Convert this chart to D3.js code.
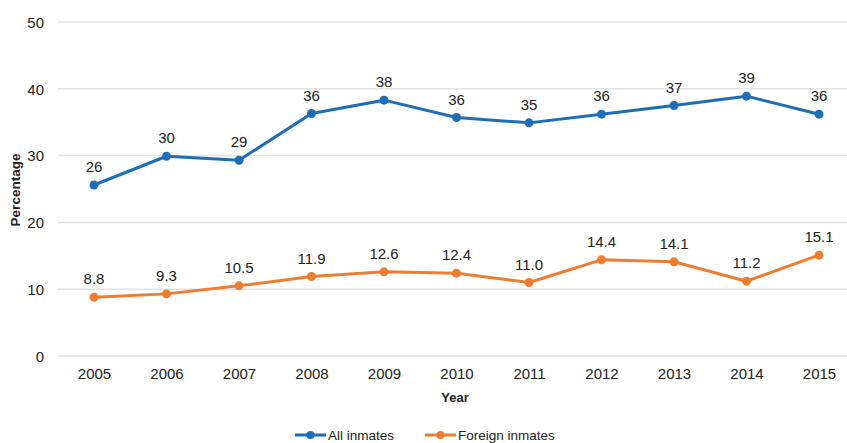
<!DOCTYPE html>
<html><head><meta charset="utf-8">
<script src="https://cdn.jsdelivr.net/npm/d3@7"></script>
<style>body{margin:0;background:#fff}text{font-family:"Liberation Sans",Arial,sans-serif;fill:#222}</style>
</head><body><svg id="c" width="847" height="443"></svg>
<script>
const years = ["2005","2006","2007","2008","2009","2010","2011","2012","2013","2014","2015"];
const allInmates = [25.6, 29.9, 29.3, 36.3, 38.3, 35.7, 34.9, 36.2, 37.5, 38.9, 36.2];
const allLabels = ["26","30","29","36","38","36","35","36","37","39","36"];
const foreignInmates = [8.8, 9.3, 10.5, 11.9, 12.6, 12.4, 11.0, 14.4, 14.1, 11.2, 15.1];
const foreignLabels = ["8.8","9.3","10.5","11.9","12.6","12.4","11.0","14.4","14.1","11.2","15.1"];
const yTicks = [0,10,20,30,40,50];
const seriesNames = ["All inmates","Foreign inmates"];
const colors = ["#1f6db5","#ed7d31"];

const svg = d3.select("#c");
const x = d3.scalePoint().domain(years).range([94, 819]);
const y = d3.scaleLinear().domain([0,50]).range([356, 22]);

const grid = svg.append("g");
grid.selectAll("line").data(yTicks).join("line")
  .attr("x1",58).attr("x2",847).attr("y1",d=>y(d)).attr("y2",d=>y(d))
  .attr("stroke","#e3e3e3").attr("stroke-width",1.5);

const yAxis = svg.append("g").attr("transform","translate(58,0)")
  .call(d3.axisLeft(y).tickValues(yTicks).tickSize(0).tickPadding(14));
yAxis.select(".domain").remove();
yAxis.selectAll("text").style("font-size","15px").attr("fill","#222").attr("dy","0.35em");

const xAxis = svg.append("g").attr("transform","translate(0,356)")
  .call(d3.axisBottom(x).tickSize(0).tickPadding(12));
xAxis.select(".domain").remove();
xAxis.selectAll("text").style("font-size","15px").attr("fill","#222");

svg.append("text").attr("x",455).attr("y",402).attr("text-anchor","middle")
  .style("font-size","13px").style("font-weight","bold").text("Year");
svg.append("text").attr("transform","translate(20,190) rotate(-90)").attr("text-anchor","middle")
  .style("font-size","13.5px").style("font-weight","bold").text("Percentage");

const series = [
  {vals: allInmates, labels: allLabels, color: colors[0]},
  {vals: foreignInmates, labels: foreignLabels, color: colors[1]}
];
const line = d3.line().x((d,i)=>x(years[i])).y(d=>y(d));
series.forEach(s=>{
  svg.append("path").datum(s.vals).attr("d",line).attr("fill","none")
    .attr("stroke",s.color).attr("stroke-width",3).attr("stroke-linejoin","round");
  svg.append("g").selectAll("circle").data(s.vals).join("circle")
    .attr("cx",(d,i)=>x(years[i])).attr("cy",d=>y(d)).attr("r",4.5).attr("fill",s.color);
  svg.append("g").selectAll("text").data(s.vals).join("text")
    .attr("x",(d,i)=>x(years[i])).attr("y",d=>y(d)-13).attr("text-anchor","middle")
    .style("font-size","15px").text((d,i)=>s.labels[i]);
});

const legend = svg.append("g");
const lx = [295, 425];
seriesNames.forEach((n,i)=>{
  const g = legend.append("g").attr("transform",`translate(${lx[i]},435)`);
  g.append("line").attr("x1",0).attr("x2",31).attr("stroke",colors[i]).attr("stroke-width",3);
  g.append("circle").attr("cx",15.5).attr("r",4).attr("fill",colors[i]);
  g.append("text").attr("x",33).attr("dy","0.35em").style("font-size","13.5px").text(n);
});
</script></body></html>
